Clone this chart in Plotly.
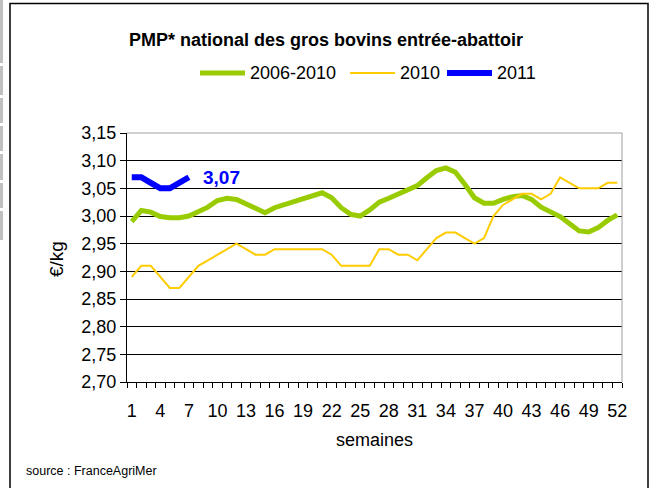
import plotly.graph_objects as go

weeks = list(range(1, 53))
avg_2006_2010 = [2.990, 3.010, 3.007, 2.999, 2.997, 2.997, 3.000, 3.008, 3.016, 3.028,
                 3.032, 3.030, 3.022, 3.012, 3.006, 3.015, 3.020, 3.027, 3.030, 3.037,
                 3.042, 3.033, 3.015, 3.003, 3.000, 3.011, 3.025, 3.032, 3.040, 3.046,
                 3.055, 3.069, 3.082, 3.087, 3.079, 3.057, 3.033, 3.023, 3.023, 3.030,
                 3.035, 3.037, 3.030, 3.016, 3.007, 2.999, 2.986, 2.973, 2.971, 2.979,
                 2.992, 3.002]
y2010 = [2.89, 2.91, 2.91, 2.89, 2.87, 2.87, 2.89, 2.91, 2.92, 2.93,
         2.94, 2.95, 2.94, 2.93, 2.93, 2.94, 2.94, 2.94, 2.94, 2.94,
         2.94, 2.93, 2.91, 2.91, 2.91, 2.91, 2.94, 2.94, 2.93, 2.93,
         2.92, 2.94, 2.96, 2.97, 2.97, 2.96, 2.95, 2.96, 3.00, 3.02,
         3.03, 3.04, 3.04, 3.03, 3.04, 3.07, 3.06, 3.05, 3.05, 3.05,
         3.06, 3.06]
y2011 = [3.07, 3.07, 3.06, 3.05, 3.05, 3.06, 3.07]
series_names = ["2006-2010", "2010", "2011"]
series_colors = ["#99cc00", "#ffcc00", "#0000ff"]
series_widths = [5, 2, 6]
xtick_labels = [str(w) for w in range(1, 53, 3)]

W, H = 651, 488
L, R, T, B = 127, 622, 133, 382


def px(x):
    return (x - L) / (R - L)


def py(y):
    return (B - y) / (B - T)


font = "Liberation Sans, Arial, sans-serif"

fig = go.Figure()
for name, ys, col, wd in zip(series_names, [avg_2006_2010, y2010, y2011], series_colors, series_widths):
    fig.add_trace(go.Scatter(x=weeks[:len(ys)], y=ys, mode="lines", name=name,
                             line=dict(color=col, width=wd), showlegend=False))

shapes = [
    dict(type="rect", xref="paper", yref="paper", x0=px(10), x1=px(648), y0=py(495), y1=py(3.5),
         line=dict(color="black", width=1.5), layer="below"),
    dict(type="line", xref="paper", yref="paper", x0=0, x1=1, y0=1, y1=1,
         line=dict(color="#a0a0a0", width=1)),
    dict(type="line", xref="paper", yref="paper", x0=1, x1=1, y0=0, y1=1,
         line=dict(color="#a0a0a0", width=1)),
]
for a, b in [(0, 63), (66, 95), (98, 123), (126, 151), (154, 180), (183, 208), (211, 240)]:
    shapes.append(dict(type="rect", xref="paper", yref="paper", x0=px(0), x1=px(3),
                       y0=py(b), y1=py(a), fillcolor="#c0c0c0", line=dict(width=0)))

annotations = [
    dict(text="<b>PMP* national des gros bovins entrée-abattoir</b>", xref="paper", yref="paper",
         x=px(326), y=py(40), xanchor="center", yanchor="middle", showarrow=False,
         font=dict(size=18, color="black", family=font)),
    dict(text="semaines", xref="paper", yref="paper", x=px(374), y=py(440),
         xanchor="center", yanchor="middle", showarrow=False,
         font=dict(size=18, color="black", family=font)),
    dict(text="€/kg", xref="paper", yref="paper", x=px(56), y=py(259), textangle=-90,
         xanchor="center", yanchor="middle", showarrow=False,
         font=dict(size=19, color="black", family=font)),
    dict(text="source : FranceAgriMer", xref="paper", yref="paper", x=px(24), y=py(471),
         xanchor="left", yanchor="middle", showarrow=False,
         font=dict(size=12.5, color="black", family=font)),
    dict(text="<b>" + f"{y2011[-1]:.2f}".replace(".", ",") + "</b>", x=weeks[len(y2011) - 1],
         y=y2011[-1], xref="x", yref="y", xanchor="left", yanchor="middle", xshift=12,
         showarrow=False, font=dict(size=19, color="#0000ff", family=font)),
]

# legend drawn manually (longer line keys, like the original)
legend_line_x = [200, 350, 447]
legend_y = 73
for name, col, wd, x0 in zip(series_names, series_colors, series_widths, legend_line_x):
    shapes.append(dict(type="line", xref="paper", yref="paper", x0=px(x0), x1=px(x0 + 45),
                       y0=py(legend_y), y1=py(legend_y), line=dict(color=col, width=wd)))
    annotations.append(dict(text=name, xref="paper", yref="paper", x=px(x0 + 48), y=py(legend_y),
                            xanchor="left", yanchor="middle", showarrow=False,
                            font=dict(size=18, color="black", family=font)))

fig.update_layout(
    width=W, height=H,
    margin=dict(l=L, r=W - R, t=T, b=H - B),
    paper_bgcolor="white", plot_bgcolor="white",
    separators=", ",
    font=dict(family=font, size=18, color="black"),
    showlegend=False,
    shapes=shapes,
    annotations=annotations,
)
fig.update_xaxes(range=[0.5, 52.5], tickmode="array", tickvals=list(range(1, 53, 3)),
                 ticktext=xtick_labels, ticks="", showgrid=False, zeroline=False,
                 showline=True, linecolor="black", linewidth=1, ticklabelstandoff=12,
                 tickfont=dict(size=18, family=font),
                 minor=dict(ticks="outside", tick0=0.5, dtick=1, ticklen=5,
                            tickcolor="black", showgrid=False))
fig.update_yaxes(range=[2.70, 3.15], dtick=0.05, tick0=2.70, tickformat=".2f",
                 showgrid=True, gridcolor="black", gridwidth=1, zeroline=False,
                 showline=True, linecolor="black", linewidth=1,
                 ticks="outside", ticklen=6, tickcolor="black",
                 tickfont=dict(size=18, family=font))

fig.write_html("out.html")
